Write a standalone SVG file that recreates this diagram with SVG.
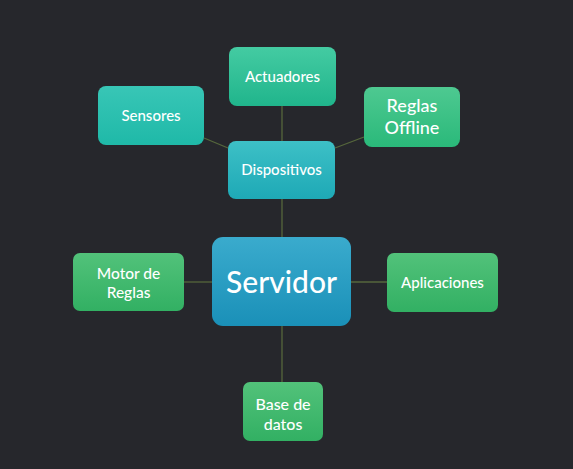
<svg xmlns="http://www.w3.org/2000/svg" width="573" height="469" viewBox="0 0 573 469">
<defs>
<linearGradient id="gAct" x1="0" y1="0" x2="0" y2="1"><stop offset="0" stop-color="#44cba2"/><stop offset="1" stop-color="#20b58c"/></linearGradient>
<linearGradient id="gSen" x1="0" y1="0" x2="0" y2="1"><stop offset="0" stop-color="#38c6b6"/><stop offset="1" stop-color="#1fb9a8"/></linearGradient>
<linearGradient id="gReg" x1="0" y1="0" x2="0" y2="1"><stop offset="0" stop-color="#4ec991"/><stop offset="1" stop-color="#2ab97a"/></linearGradient>
<linearGradient id="gDis" x1="0" y1="0" x2="0" y2="1"><stop offset="0" stop-color="#3dc0c6"/><stop offset="1" stop-color="#1ea9b6"/></linearGradient>
<linearGradient id="gSrv" x1="0" y1="0" x2="0" y2="1"><stop offset="0" stop-color="#3aabcd"/><stop offset="1" stop-color="#1a90b8"/></linearGradient>
<linearGradient id="gGrn" x1="0" y1="0" x2="0" y2="1"><stop offset="0" stop-color="#52c27a"/><stop offset="1" stop-color="#32b063"/></linearGradient>
</defs>
<style>
.bg{fill:#26272c}
.n{stroke:none}
.t{fill:#ffffff;font-family:Lato,"Open Sans","Liberation Sans",sans-serif;text-anchor:middle;dominant-baseline:central;font-weight:500}
.c line{stroke:#56673c;stroke-width:1.3}
</style>
<rect class="bg" x="0" y="0" width="573" height="469"/>
<g id="connectors" class="c">
<line x1="282" y1="106" x2="282" y2="141"/>
<line x1="204" y1="138" x2="228" y2="148"/>
<line x1="364" y1="137" x2="335" y2="148"/>
<line x1="282" y1="199" x2="282" y2="237"/>
<line x1="184" y1="282" x2="212" y2="282"/>
<line x1="351" y1="282" x2="387" y2="282"/>
<line x1="282" y1="326" x2="282" y2="382"/>
</g>
<g id="actuadores"><rect class="n" x="229" y="47" width="107" height="59" rx="8" fill="url(#gAct)"/><text class="t" x="282.5" y="76" font-size="15">Actuadores</text></g>
<g id="sensores"><rect class="n" x="98" y="86" width="106" height="59" rx="8" fill="url(#gSen)"/><text class="t" x="151" y="115" font-size="15">Sensores</text></g>
<g id="reglas-offline"><rect class="n" x="364" y="87" width="96" height="60" rx="8" fill="url(#gReg)"/><text class="t" x="412" y="105" font-size="18">Reglas</text><text class="t" x="412" y="127" font-size="18">Offline</text></g>
<g id="dispositivos"><rect class="n" x="228" y="141" width="107" height="58" rx="8" fill="url(#gDis)"/><text class="t" x="281.5" y="169" font-size="15">Dispositivos</text></g>
<g id="servidor"><rect class="n" x="212" y="237" width="139" height="89" rx="11" fill="url(#gSrv)"/><text class="t" x="281.5" y="281" font-size="30">Servidor</text></g>
<g id="motor"><rect class="n" x="73" y="253" width="111" height="58" rx="7" fill="url(#gGrn)"/><text class="t" x="128.5" y="273" font-size="15.5">Motor de</text><text class="t" x="128.5" y="292" font-size="15.5">Reglas</text></g>
<g id="aplicaciones"><rect class="n" x="387" y="253" width="111" height="59" rx="7" fill="url(#gGrn)"/><text class="t" x="442.5" y="282" font-size="15">Aplicaciones</text></g>
<g id="base-datos"><rect class="n" x="243" y="382" width="80" height="59" rx="7" fill="url(#gGrn)"/><text class="t" x="283" y="403" font-size="16">Base de</text><text class="t" x="283" y="423" font-size="16">datos</text></g>
</svg>
